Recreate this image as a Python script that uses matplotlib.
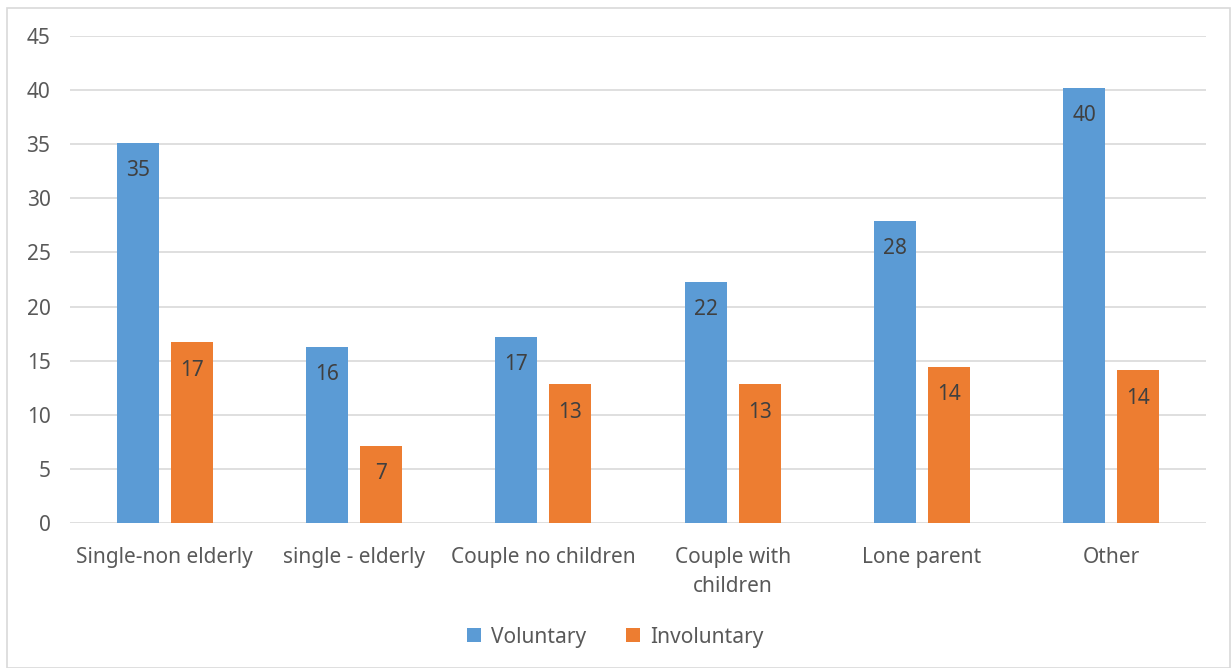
import matplotlib.pyplot as plt
import numpy as np
from matplotlib.patches import Rectangle

categories = ["Single-non elderly", "single - elderly", "Couple no children",
              "Couple with\nchildren", "Lone parent", "Other"]
voluntary = [35.1, 16.3, 17.2, 22.3, 27.9, 40.2]
involuntary = [16.7, 7.1, 12.8, 12.8, 14.4, 14.1]
series_names = ["Voluntary", "Involuntary"]

BLUE = "#5B9BD5"
ORANGE = "#ED7D31"
TEXT = "#595959"
LABEL = "#404040"
FS = 15

plt.rcParams["font.family"] = ["Noto Sans", "DejaVu Sans"]

fig = plt.figure(figsize=(12.31, 6.68), dpi=100)
ax = fig.add_axes([70 / 1231, 1 - 523 / 668, (1206 - 70) / 1231, (523 - 36) / 668])

# outer chart border
fig.patches.append(Rectangle((7 / 1231, 0), 1 - 8 / 1231, 1 - 8 / 668,
                             transform=fig.transFigure, fill=False,
                             edgecolor="#D9D9D9", linewidth=1.2))

x = np.arange(len(categories))
width = 0.222
offset = 0.143
b1 = ax.bar(x - offset, voluntary, width, color=BLUE, label=series_names[0], zorder=3)
b2 = ax.bar(x + offset, involuntary, width, color=ORANGE, label=series_names[1], zorder=3)

for bars, vals in ((b1, voluntary), (b2, involuntary)):
    for rect, v in zip(bars, vals):
        ax.annotate(f"{v:.0f}", (rect.get_x() + rect.get_width() / 2, v),
                    xytext=(0, -20), textcoords="offset points",
                    ha="center", va="center", fontsize=FS, color=LABEL, zorder=4)

ax.set_xlim(-0.5, len(categories) - 0.5)
ax.set_ylim(0, 45)
ax.set_yticks(np.arange(0, 46, 5))
ax.set_xticks(x)
ax.set_xticklabels(categories, linespacing=1.5)
ax.tick_params(axis="both", length=0, labelsize=FS, colors=TEXT)
ax.tick_params(axis="y", pad=14)
ax.tick_params(axis="x", pad=17)
ax.grid(axis="y", color="#D9D9D9", linewidth=1.2, zorder=0)
for s in ax.spines.values():
    s.set_visible(False)

fig.legend(handles=[b1, b2], labels=series_names, loc="center",
           bbox_to_anchor=(0.5, 1 - 637 / 668), ncol=2, frameon=False,
           fontsize=FS, handlelength=0.65, handleheight=0.65,
           columnspacing=1.9, handletextpad=0.5, labelcolor=TEXT)

fig.savefig("out.png", dpi=100)
